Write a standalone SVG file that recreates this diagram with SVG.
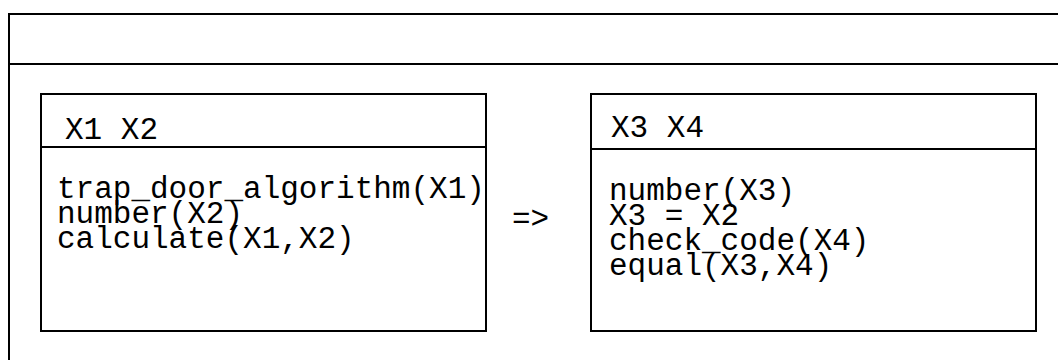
<svg xmlns="http://www.w3.org/2000/svg" width="1058" height="360" viewBox="0 0 1058 360">
<style>
.box{fill:#fff;stroke:#000;stroke-width:2}
.ln{stroke:#000;stroke-width:2;fill:none}
.t{font-family:"Liberation Mono","Courier New",monospace;font-size:31px;fill:#000}
</style>
<rect width="1058" height="360" fill="#fff"/>
<g id="frame">
<rect class="box" x="9" y="14" width="1070" height="370"/>
<line class="ln" x1="9" y1="64" x2="1058" y2="64"/>
</g>
<g id="left">
<rect class="box" x="41" y="94" width="445" height="237"/>
<line class="ln" x1="41" y1="147" x2="486" y2="147"/>
<text class="t" x="65" y="139">X1 X2</text>
<text class="t" x="57" y="198">trap_door_algorithm(X1)</text>
<text class="t" x="57" y="223">number(X2)</text>
<text class="t" x="57" y="248">calculate(X1,X2)</text>
</g>
<g id="connectors">
<text class="t" x="512" y="228">=&gt;</text>
</g>
<g id="right">
<rect class="box" x="591" y="94" width="445" height="237"/>
<line class="ln" x1="591" y1="149" x2="1036" y2="149"/>
<text class="t" x="611" y="137">X3 X4</text>
<text class="t" x="609" y="200">number(X3)</text>
<text class="t" x="609" y="225">X3 = X2</text>
<text class="t" x="609" y="250">check_code(X4)</text>
<text class="t" x="609" y="275">equal(X3,X4)</text>
</g>
</svg>
